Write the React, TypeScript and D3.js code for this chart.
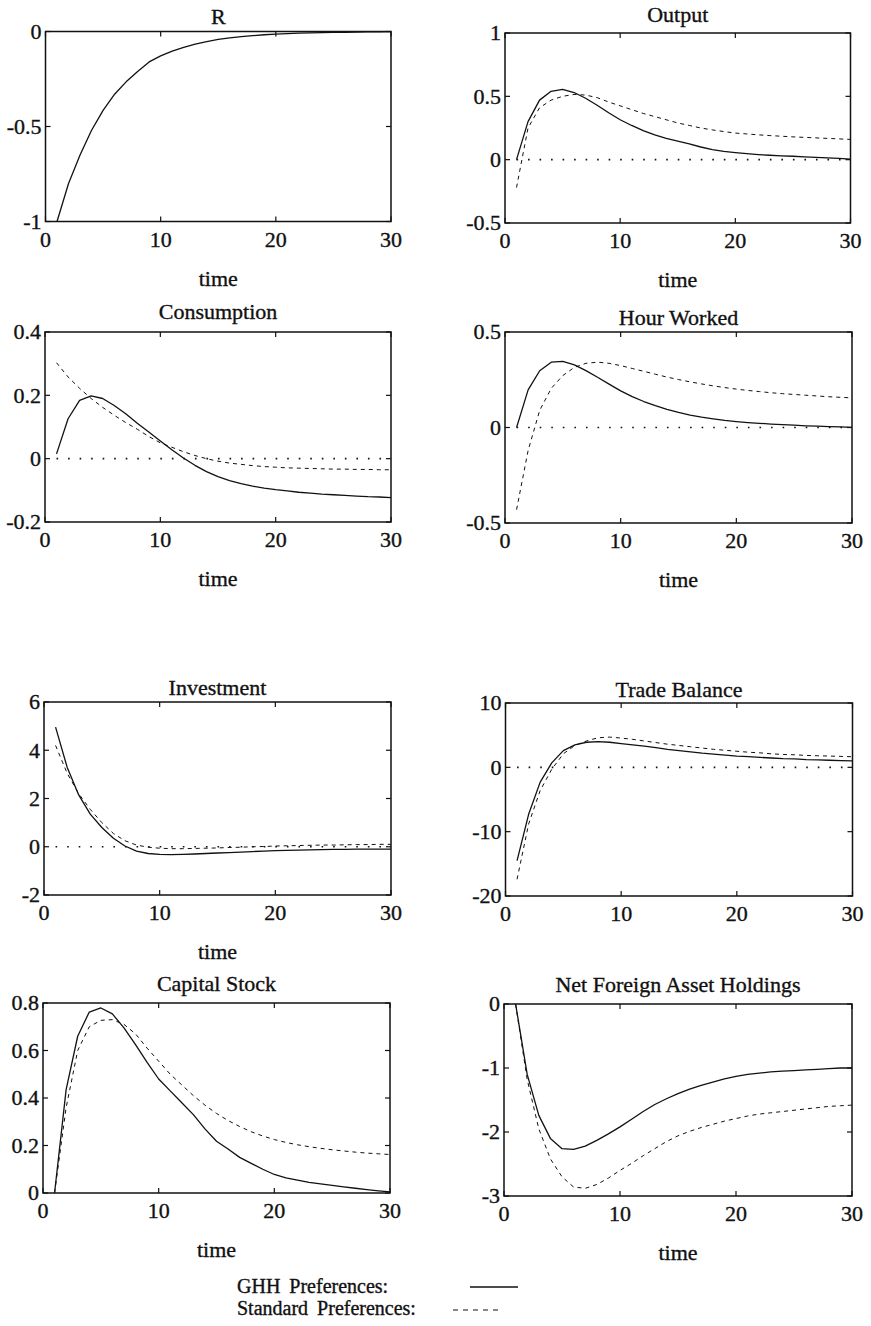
import React from 'react';
import * as d3 from 'd3';

// impulse responses, t = 1..30
const TIME = [1, 2, 3, 4, 5, 6, 7, 8, 9, 10, 11, 12, 13, 14, 15, 16, 17, 18, 19, 20, 21, 22, 23, 24, 25, 26, 27, 28, 29, 30];

const R_GHH = [-1, -0.8, -0.65, -0.52, -0.415, -0.33, -0.265, -0.21, -0.16, -0.128, -0.103, -0.083, -0.066, -0.053, -0.042, -0.034, -0.027, -0.022, -0.017, -0.014, -0.011, -0.009, -0.007, -0.006, -0.005, -0.004, -0.003, -0.002, -0.002, -0.001];

const OUTPUT_GHH = [0, 0.3, 0.47, 0.54, 0.555, 0.53, 0.485, 0.43, 0.37, 0.315, 0.27, 0.23, 0.195, 0.168, 0.147, 0.125, 0.1, 0.08, 0.065, 0.055, 0.047, 0.04, 0.035, 0.03, 0.027, 0.022, 0.018, 0.014, 0.01, 0.004];
const OUTPUT_STD = [-0.22, 0.25, 0.41, 0.47, 0.5, 0.515, 0.51, 0.49, 0.455, 0.425, 0.395, 0.365, 0.34, 0.315, 0.29, 0.27, 0.25, 0.235, 0.222, 0.21, 0.203, 0.196, 0.19, 0.185, 0.18, 0.176, 0.172, 0.168, 0.164, 0.16];

const CONS_GHH = [0.015, 0.126, 0.184, 0.198, 0.19, 0.168, 0.142, 0.112, 0.084, 0.056, 0.028, 0.002, -0.021, -0.041, -0.057, -0.069, -0.079, -0.087, -0.093, -0.098, -0.102, -0.106, -0.109, -0.112, -0.114, -0.116, -0.118, -0.12, -0.121, -0.123];
const CONS_STD = [0.303, 0.258, 0.222, 0.19, 0.162, 0.137, 0.114, 0.093, 0.07, 0.05, 0.036, 0.022, 0.01, 0.0, -0.008, -0.014, -0.018, -0.022, -0.025, -0.027, -0.029, -0.03, -0.031, -0.032, -0.033, -0.033, -0.034, -0.034, -0.035, -0.035];

const HOURS_GHH = [0, 0.197, 0.297, 0.342, 0.346, 0.328, 0.298, 0.263, 0.227, 0.192, 0.162, 0.136, 0.114, 0.095, 0.079, 0.065, 0.054, 0.045, 0.037, 0.031, 0.026, 0.022, 0.018, 0.015, 0.012, 0.009, 0.007, 0.005, 0.003, 0.001];
const HOURS_STD = [-0.43, -0.12, 0.09, 0.205, 0.272, 0.315, 0.336, 0.342, 0.336, 0.324, 0.309, 0.294, 0.279, 0.264, 0.251, 0.239, 0.228, 0.218, 0.209, 0.201, 0.194, 0.188, 0.182, 0.177, 0.173, 0.169, 0.165, 0.161, 0.158, 0.155];

const INV_GHH = [4.96, 3.3, 2.15, 1.35, 0.8, 0.35, 0.03, -0.18, -0.28, -0.32, -0.33, -0.32, -0.3, -0.28, -0.26, -0.24, -0.22, -0.2, -0.18, -0.16, -0.15, -0.14, -0.13, -0.12, -0.11, -0.11, -0.1, -0.1, -0.1, -0.1];
const INV_STD = [4.2, 3.05, 2.2, 1.55, 1.0, 0.55, 0.25, 0.07, -0.02, -0.06, -0.08, -0.08, -0.07, -0.06, -0.05, -0.03, -0.02, 0.0, 0.01, 0.03, 0.04, 0.05, 0.06, 0.07, 0.07, 0.08, 0.09, 0.09, 0.1, 0.1];

const TB_GHH = [-14.5, -7.3, -2.3, 0.7, 2.6, 3.5, 3.9, 4.0, 3.9, 3.7, 3.5, 3.3, 3.05, 2.8, 2.6, 2.4, 2.2, 2.05, 1.9, 1.75, 1.65, 1.55, 1.45, 1.35, 1.3, 1.2, 1.15, 1.1, 1.05, 1.0];
const TB_STD = [-17.4, -8.8, -3.6, -0.3, 2.1, 3.4, 4.1, 4.6, 4.7, 4.55, 4.35, 4.1, 3.85, 3.6, 3.4, 3.2, 3.0, 2.8, 2.65, 2.5, 2.35, 2.25, 2.1, 2.0, 1.95, 1.85, 1.8, 1.75, 1.7, 1.65];

const CAP_GHH = [0, 0.435, 0.66, 0.762, 0.779, 0.754, 0.695, 0.625, 0.55, 0.48, 0.43, 0.38, 0.33, 0.27, 0.218, 0.185, 0.15, 0.125, 0.1, 0.078, 0.064, 0.054, 0.045, 0.038, 0.032, 0.026, 0.02, 0.014, 0.009, 0.005];
const CAP_STD = [0, 0.36, 0.6, 0.7, 0.727, 0.73, 0.71, 0.67, 0.61, 0.555, 0.5, 0.455, 0.41, 0.37, 0.335, 0.305, 0.28, 0.258, 0.24, 0.225, 0.213, 0.203, 0.195, 0.188, 0.182, 0.177, 0.172, 0.168, 0.165, 0.162];

const NFA_GHH = [0, -1.1, -1.74, -2.1, -2.26, -2.27, -2.22, -2.13, -2.03, -1.92, -1.8, -1.68, -1.57, -1.48, -1.4, -1.33, -1.27, -1.22, -1.17, -1.13, -1.1, -1.08, -1.06, -1.05, -1.04, -1.03, -1.02, -1.01, -1.0, -1.0];
const NFA_STD = [0, -1.18, -1.95, -2.42, -2.7, -2.86, -2.88, -2.82, -2.72, -2.6, -2.49, -2.37, -2.26, -2.15, -2.06, -1.99, -1.93, -1.88, -1.83, -1.79, -1.75, -1.72, -1.7, -1.68, -1.66, -1.64, -1.62, -1.6, -1.59, -1.58];

const X_TICKS = [0, 10, 20, 30];

const LEGEND = ['GHH Preferences:', 'Standard Preferences:'];

type Spec = {
  title: string;
  ghh: number[];
  std: number[] | null;
  yDomain: [number, number];
  yTicks: number[];
  zero: boolean;
  time: boolean;
};

const PANELS: Spec[] = [
  { title: 'R', ghh: R_GHH, std: null, yDomain: [-1, 0], yTicks: [0, -0.5, -1], zero: false, time: true },
  { title: 'Output', ghh: OUTPUT_GHH, std: OUTPUT_STD, yDomain: [-0.5, 1], yTicks: [1, 0.5, 0, -0.5], zero: true, time: true },
  { title: 'Consumption', ghh: CONS_GHH, std: CONS_STD, yDomain: [-0.2, 0.4], yTicks: [0.4, 0.2, 0, -0.2], zero: true, time: true },
  { title: 'Hour Worked', ghh: HOURS_GHH, std: HOURS_STD, yDomain: [-0.5, 0.5], yTicks: [0.5, 0, -0.5], zero: true, time: true },
  { title: 'Investment', ghh: INV_GHH, std: INV_STD, yDomain: [-2, 6], yTicks: [6, 4, 2, 0, -2], zero: true, time: true },
  { title: 'Trade Balance', ghh: TB_GHH, std: TB_STD, yDomain: [-20, 10], yTicks: [10, 0, -10, -20], zero: true, time: false },
  { title: 'Capital Stock', ghh: CAP_GHH, std: CAP_STD, yDomain: [0, 0.8], yTicks: [0.8, 0.6, 0.4, 0.2, 0], zero: false, time: true },
  { title: 'Net Foreign Asset Holdings', ghh: NFA_GHH, std: NFA_STD, yDomain: [-3, 0], yTicks: [0, -1, -2, -3], zero: false, time: true },
];

// frame boxes in page pixels
const LAYOUT = [
  { x: 45.5, y: 31.5, w: 345.5, h: 190, titleGap: 7.5 },
  { x: 505, y: 33, w: 345.5, h: 190, titleGap: 11 },
  { x: 45, y: 332, w: 346, h: 190, titleGap: 13 },
  { x: 505, y: 332, w: 347, h: 191, titleGap: 7 },
  { x: 44, y: 702, w: 347, h: 193, titleGap: 7 },
  { x: 505.5, y: 703, w: 347, h: 193, titleGap: 6 },
  { x: 43, y: 1003, w: 347, h: 190, titleGap: 12 },
  { x: 504, y: 1004, w: 348, h: 192, titleGap: 12 },
];

const FONT = '"Liberation Serif", "Times New Roman", serif';
const INK = '#111';
const FS = 22;

// scanned type looks heavy, so give the glyphs a hairline outline
const txt = { fontFamily: FONT, fontSize: FS, fill: INK, stroke: INK, strokeWidth: 0.35 };

function Panel({ spec, box }: { spec: Spec; box: typeof LAYOUT[number] }) {
  const x = d3.scaleLinear().domain([0, 30]).range([box.x, box.x + box.w]);
  const y = d3.scaleLinear().domain(spec.yDomain).range([box.y + box.h, box.y]);
  const line = d3.line<number>().x((_, i) => x(TIME[i])).y((d) => y(d));
  const tick = 5;
  const bottom = box.y + box.h;
  const right = box.x + box.w;
  const dotStep = x(1) - x(0);

  return (
    <g>
      <text x={(box.x + right) / 2} y={box.y - box.titleGap} textAnchor="middle" {...txt}>
        {spec.title}
      </text>

      {spec.zero && (
        <line
          x1={x(TIME[0])} x2={x(TIME[TIME.length - 1])} y1={y(0)} y2={y(0)}
          stroke={INK} strokeWidth={1.6} strokeDasharray={`1.6 ${dotStep - 1.6}`}
        />
      )}

      {spec.std && (
        <path d={line(spec.std) || ''} fill="none" stroke={INK} strokeWidth={1} strokeDasharray="4 4" />
      )}
      <path d={line(spec.ghh) || ''} fill="none" stroke={INK} strokeWidth={1.3} strokeLinejoin="round" />

      <rect x={box.x} y={box.y} width={box.w} height={box.h} fill="none" stroke={INK} strokeWidth={1.5} />

      {X_TICKS.map((t) => (
        <g key={'x' + t}>
          <line x1={x(t)} x2={x(t)} y1={bottom} y2={bottom - tick} stroke={INK} strokeWidth={1.2} />
          <line x1={x(t)} x2={x(t)} y1={box.y} y2={box.y + tick} stroke={INK} strokeWidth={1.2} />
          <text x={x(t)} y={bottom + 25} textAnchor="middle" {...txt}>
            {t}
          </text>
        </g>
      ))}

      {spec.yTicks.map((v) => (
        <g key={'y' + v}>
          <line x1={box.x} x2={box.x + tick} y1={y(v)} y2={y(v)} stroke={INK} strokeWidth={1.2} />
          <line x1={right} x2={right - tick} y1={y(v)} y2={y(v)} stroke={INK} strokeWidth={1.2} />
          <text x={box.x - 4} y={y(v)} dy="0.34em" textAnchor="end" {...txt}>
            {String(v)}
          </text>
        </g>
      ))}

      {spec.time && (
        <text x={(box.x + right) / 2} y={bottom + 64} textAnchor="middle" {...txt}>
          time
        </text>
      )}
    </g>
  );
}

export default function App() {
  return (
    <div style={{ position: 'absolute', left: 0, top: 0, background: '#fff' }}>
      <svg width={871} height={1326} viewBox="0 0 871 1326" style={{ display: 'block' }}>
        <rect width={871} height={1326} fill="#fff" />
        {PANELS.map((p, i) => (
          <Panel key={p.title} spec={p} box={LAYOUT[i]} />
        ))}

        {LEGEND.map((s, i) => (
          <text key={s} x={237} y={1292.5 + i * 22.5} {...txt} fontSize={20} style={{ wordSpacing: '4px' }}>
            {s}
          </text>
        ))}
        <line x1={470} x2={518} y1={1287} y2={1287} stroke={INK} strokeWidth={1.4} />
        <line x1={453} x2={503} y1={1310} y2={1310} stroke={INK} strokeWidth={1} strokeDasharray="5 5" />
      </svg>
    </div>
  );
}
